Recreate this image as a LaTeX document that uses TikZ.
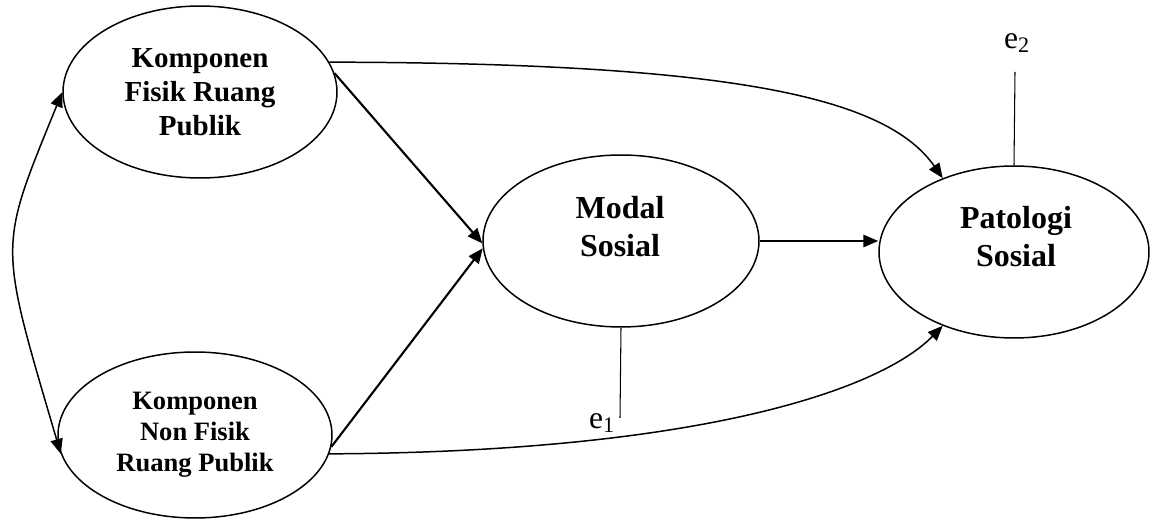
\documentclass[tikz,border=0pt]{standalone}
\usepackage{fontspec}
\setmainfont{Liberation Serif}
\usetikzlibrary{shapes.geometric,arrows.meta}
\begin{document}
\begin{tikzpicture}[x=0.02cm,y=-0.02cm,
  lat/.style={ellipse,draw,line width=0.85pt,inner sep=0pt,align=center},
  lbl/.style={align=center,inner sep=0pt},
  straightarrow/.style={line width=1.2pt,-{Triangle[length=8.5pt,width=7pt]}},
  curvearrow/.style={line width=0.85pt,-{Triangle[length=8.5pt,width=7pt]}},
  twoarrow/.style={line width=0.85pt,{Triangle[length=8.5pt,width=7pt]}-{Triangle[length=8.5pt,width=7pt]}},
  errline/.style={line width=0.6pt},
  errlbl/.style={inner sep=0pt,font=\fontsize{18}{21}\selectfont}]
\useasboundingbox (0,0) rectangle (1150,519);
\fill[white] (0,0) rectangle (1150,519);

\node[lat,minimum width=5.48cm,minimum height=3.44cm,font=\bfseries\fontsize{16.5}{19.4}\selectfont] (fisik) at (200,92) {Komponen\\Fisik Ruang\\Publik};
\node[lat,minimum width=5.48cm,minimum height=3.32cm,font=\bfseries\fontsize{15.1}{17.6}\selectfont] (nonfisik) at (195,435) {Komponen\\Non Fisik\\Ruang Publik};
\node[lat,minimum width=5.52cm,minimum height=3.44cm] (modal) at (621,241) {};
\node[lbl,font=\bfseries\fontsize{18.2}{21.6}\selectfont] (modaltxt) at (620,227) {Modal\\Sosial};
\node[lat,minimum width=5.40cm,minimum height=3.44cm] (pato) at (1014,252) {};
\node[lbl,font=\bfseries\fontsize{18.2}{21.6}\selectfont] (patotxt) at (1016,237) {Patologi\\Sosial};

\draw[straightarrow] (fisik.8.6) -- (modal.181);
\draw[straightarrow] (nonfisik.-5) -- (modal.183);
\draw[straightarrow] (modal.east) -- (modal.east -| pato.west);
\draw[curvearrow] (fisik.13) .. controls (733,63) and (886,97) .. (pato.134);
\draw[curvearrow] (nonfisik.-8) .. controls (700,452) and (880,390) .. (pato.226);
\draw[twoarrow] (fisik.180) .. controls (-2,250) and (-2,240) .. (nonfisik.188);

\coordinate (e1end) at (620,418);
\coordinate (e2end) at (1015,72);
\draw[errline] (modal.south) -- (e1end);
\draw[errline] (pato.north) -- (e2end);
\node[errlbl] (e1) at (602,423) {e\textsubscript{1}};
\node[errlbl] (e2) at (1017,43) {e\textsubscript{2}};
\end{tikzpicture}
\end{document}
